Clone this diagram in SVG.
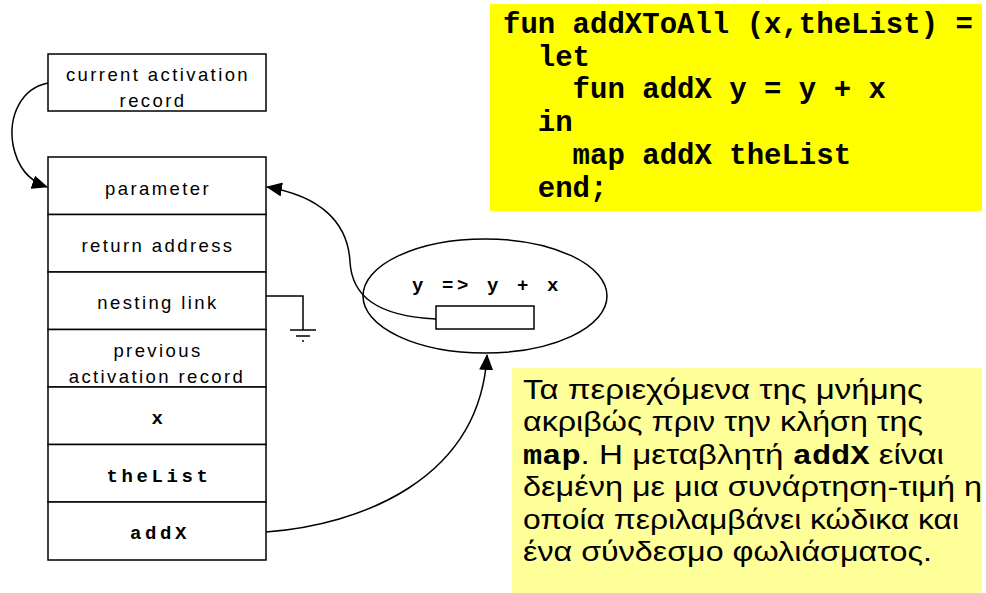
<svg xmlns="http://www.w3.org/2000/svg" width="986" height="593" viewBox="0 0 986 593">
<defs>
<marker id="ah" markerWidth="16" markerHeight="14" refX="15" refY="7" orient="auto" markerUnits="userSpaceOnUse">
<path d="M0,0 L16,7 L0,14 Z" fill="#000"/>
</marker>
<style>
.box{fill:#fff;stroke:#000;stroke-width:1.5}
.lbl{font-family:"Liberation Sans",Arial,sans-serif;font-size:18.5px;letter-spacing:2.4px;fill:#000;text-anchor:middle}
.mono{font-family:"Liberation Mono","Courier New",monospace;font-weight:bold;font-size:19px;letter-spacing:3.6px;fill:#000;text-anchor:middle}
.code{font-family:"Liberation Mono","Courier New",monospace;font-weight:bold;font-size:29px;fill:#000;white-space:pre}
.note{font-family:"Liberation Sans",Arial,sans-serif;font-size:28px;fill:#000}
.nm{font-family:"Liberation Mono","Courier New",monospace;font-weight:bold;font-size:27px}
.conn{fill:none;stroke:#000;stroke-width:1.5}
</style>
</defs>

<g id="code-box">
<rect x="490" y="4" width="492" height="207" fill="#ffff00"/>
<text class="code" x="503" y="33" xml:space="preserve">fun addXToAll (x,theList) =</text>
<text class="code" x="503" y="65.7" xml:space="preserve">  let</text>
<text class="code" x="503" y="98.4" xml:space="preserve">    fun addX y = y + x</text>
<text class="code" x="503" y="131" xml:space="preserve">  in</text>
<text class="code" x="503" y="163.8" xml:space="preserve">    map addX theList</text>
<text class="code" x="503" y="196.5" xml:space="preserve">  end;</text>
</g>

<g id="current-ar">
<rect class="box" x="48" y="54" width="218" height="57"/>
<text class="lbl" x="158" y="81">current activation</text>
<text class="lbl" x="153" y="107">record</text>
</g>

<g id="row-parameter">
<rect class="box" x="48" y="157" width="218" height="57.5"/>
<text class="lbl" x="158" y="195">parameter</text>
</g>
<g id="row-return">
<rect class="box" x="48" y="214.5" width="218" height="57.5"/>
<text class="lbl" x="158" y="252">return address</text>
</g>
<g id="row-nesting">
<rect class="box" x="48" y="272" width="218" height="57.5"/>
<text class="lbl" x="158" y="309">nesting link</text>
</g>
<g id="row-previous">
<rect class="box" x="48" y="329.5" width="218" height="57.5"/>
<text class="lbl" x="158" y="357">previous</text>
<text class="lbl" x="157" y="383">activation record</text>
</g>
<g id="row-x">
<rect class="box" x="48" y="387" width="218" height="57.5"/>
<text class="mono" x="159" y="424">x</text>
</g>
<g id="row-thelist">
<rect class="box" x="48" y="444.5" width="218" height="57.5"/>
<text class="mono" x="159" y="482">theList</text>
</g>
<g id="row-addx">
<rect class="box" x="48" y="502" width="218" height="58"/>
<text class="mono" x="160" y="539">addX</text>
</g>

<g id="ground">
<path class="conn" d="M266,296 H303 V330"/>
<path class="conn" d="M290,330 H316 M296,336 H310 M302,341 H304"/>
</g>

<g id="closure">
<ellipse cx="485" cy="296" rx="122" ry="57" fill="none" stroke="#000" stroke-width="1.5"/>
<text class="mono" x="487" y="291">y =&gt; y + x</text>
<rect class="box" x="436" y="306" width="98" height="23"/>
</g>

<g id="note">
<rect x="512" y="368" width="470" height="225" fill="#ffff99"/>
<text class="note" x="523" y="399" textLength="400" lengthAdjust="spacingAndGlyphs">Τα περιεχόμενα της μνήμης</text>
<text class="note" x="523" y="431.4" textLength="400" lengthAdjust="spacingAndGlyphs">ακριβώς πριν την κλήση της</text>
<text class="note" x="523" y="463.8" textLength="421" lengthAdjust="spacingAndGlyphs"><tspan class="nm">map</tspan>. Η μεταβλητή <tspan class="nm">addX</tspan> είναι</text>
<text class="note" x="523" y="496.2" textLength="459" lengthAdjust="spacingAndGlyphs">δεμένη με μια συνάρτηση-τιμή η</text>
<text class="note" x="523" y="528.6" textLength="436" lengthAdjust="spacingAndGlyphs">οποία περιλαμβάνει κώδικα και</text>
<text class="note" x="523" y="561" textLength="409" lengthAdjust="spacingAndGlyphs">ένα σύνδεσμο φωλιάσματος.</text>
</g>

<g id="connectors">
<path class="conn" marker-end="url(#ah)" d="M48,83 C22,88 8,115 13,145 C18,170 32,182 47,187"/>
<path class="conn" marker-end="url(#ah)" d="M436,319 C375,316 352,295 350,262 C348,222 320,196 267,187"/>
<path class="conn" marker-end="url(#ah)" d="M266,532 C360,525 480,480 487,355"/>
</g>
</svg>
